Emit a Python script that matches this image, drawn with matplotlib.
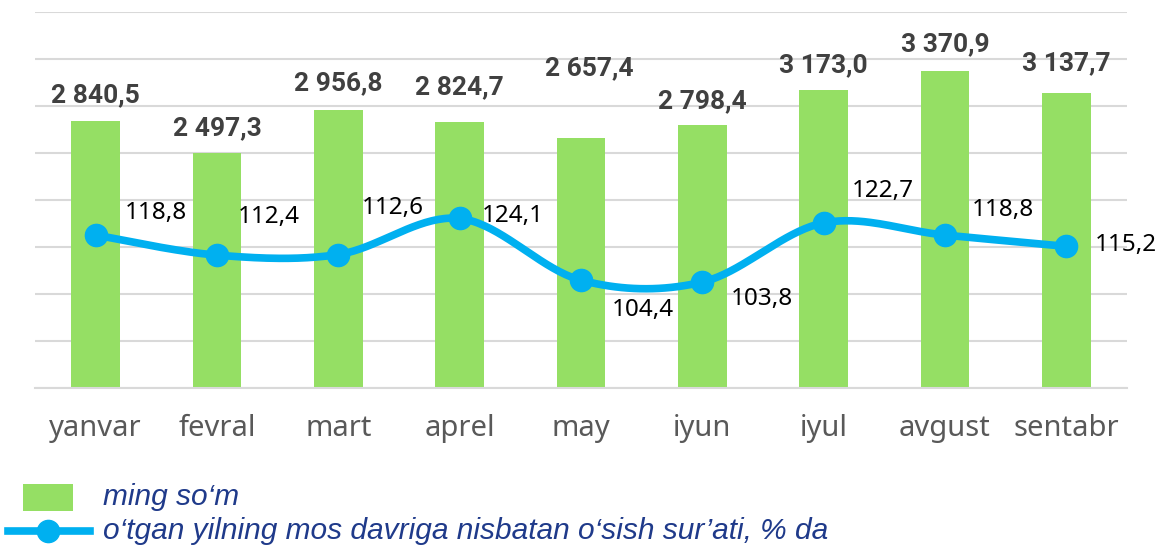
import matplotlib
matplotlib.use("Agg")
import matplotlib.pyplot as plt
import numpy as np
from matplotlib.patches import Rectangle
from matplotlib.lines import Line2D

months = ["yanvar", "fevral", "mart", "aprel", "may", "iyun", "iyul", "avgust", "sentabr"]
wage = [2840.5, 2497.3, 2956.8, 2824.7, 2657.4, 2798.4, 3173.0, 3370.9, 3137.7]
growth = [118.8, 112.4, 112.6, 124.1, 104.4, 103.8, 122.7, 118.8, 115.2]
wage_labels = ["2 840,5", "2 497,3", "2 956,8", "2 824,7", "2 657,4",
               "2 798,4", "3 173,0", "3 370,9", "3 137,7"]
growth_labels = ["118,8", "112,4", "112,6", "124,1", "104,4",
                 "103,8", "122,7", "118,8", "115,2"]
legend_bar = "ming so‘m"
legend_line = "o‘tgan yilning mos davriga nisbatan o‘sish sur’ati, % da"

GREEN = "#95DF64"
BLUE = "#00B0F0"

# label offsets in pixels (moved by hand in the original)
bar_lab_off = [26, 25, 27, 35, 70, 24, 25, 27, 30]
bar_lab_dx = [0, 0, 0, 0, 8, 0, 0, 0, 0]
line_lab_off = [(60, 22), (52, 38), (54, 47), (53, 2), (62, -30),
                (60, -17), (59, 32), (58, 25), (60, 1)]


def smooth(xs, ys, n=40):
    pts = np.column_stack([xs, ys]).astype(float)
    ext = np.vstack([pts[0], pts, pts[-1]])
    t = np.linspace(0, 1, n)[:, None]
    segs = []
    for i in range(len(pts) - 1):
        p0, p1, p2, p3 = ext[i], ext[i + 1], ext[i + 2], ext[i + 3]
        seg = 0.5 * (2 * p1 + (-p0 + p2) * t
                     + (2 * p0 - 5 * p1 + 4 * p2 - p3) * t ** 2
                     + (-p0 + 3 * p1 - 3 * p2 + p3) * t ** 3)
        segs.append(seg)
    s = np.vstack(segs)
    return s[:, 0], s[:, 1]


plt.rcParams['font.family'] = ['Noto Sans', 'DejaVu Sans']

fig = plt.figure(figsize=(11.58, 5.49), dpi=100)
ax = fig.add_axes([0.0302, 0.2933, 0.943, 0.6848])
x = np.arange(len(months))

ax.bar(x, wage, width=0.4, color=GREEN, zorder=2)
ax.set_ylim(0, 4000)
ax.set_xlim(-0.5, len(months) - 0.5)
ax.set_yticks(np.arange(0, 4001, 500))
ax.yaxis.grid(True, color="#D9D9D9", lw=1.5, zorder=0)
ax.set_axisbelow(True)
ax.set_xticks(x)
ax.set_xticklabels(months)
for s in ["top", "right", "left"]:
    ax.spines[s].set_visible(False)
ax.spines["bottom"].set_color("#D9D9D9")
ax.spines["bottom"].set_linewidth(1.5)

for i in range(len(months)):
    ax.annotate(wage_labels[i], (x[i], wage[i]), xytext=(bar_lab_dx[i], bar_lab_off[i]),
                textcoords="offset pixels", ha="center", va="center",
                family=['Roboto', 'DejaVu Sans'], fontsize=19, fontweight="bold",
                color="#404040")

ax2 = ax.twinx()
ax2.set_ylim(70, 190)
ax2.axis("off")
sx, sy = smooth(x, growth)
ax2.plot(sx, sy, color=BLUE, lw=5.5, solid_capstyle="round", zorder=3)
ax2.plot(x, growth, "o", color=BLUE, markersize=16, zorder=4)
for i in range(len(months)):
    ax2.annotate(growth_labels[i], (x[i], growth[i]), xytext=line_lab_off[i],
                 textcoords="offset pixels", ha="center", va="center",
                 fontsize=17.5, color="black")

ax.tick_params(axis="y", left=False, right=False, labelleft=False)
ax.tick_params(axis="x", length=0, pad=19, labelsize=21, labelcolor="#595959")

# legend drawn by hand below the plot
fig.add_artist(Rectangle((0.0199, 0.0692), 0.0432, 0.0492, transform=fig.transFigure,
                         facecolor=GREEN, edgecolor="none"))
fig.add_artist(Line2D([0.0069, 0.0777], [0.0328, 0.0328], transform=fig.transFigure,
                      color=BLUE, lw=5.5))
fig.add_artist(Line2D([0.0415], [0.0328], transform=fig.transFigure, marker="o",
                      color=BLUE, markersize=16))
leg_font = dict(family=['Liberation Sans Narrow', 'Liberation Sans'], style="italic",
                fontsize=21.5, color="#1F3A8A", va="center", ha="left")
fig.text(0.089, 0.0947, legend_bar, **leg_font)
fig.text(0.089, 0.0328, legend_line, **leg_font)

fig.savefig("out.png", dpi=100)
